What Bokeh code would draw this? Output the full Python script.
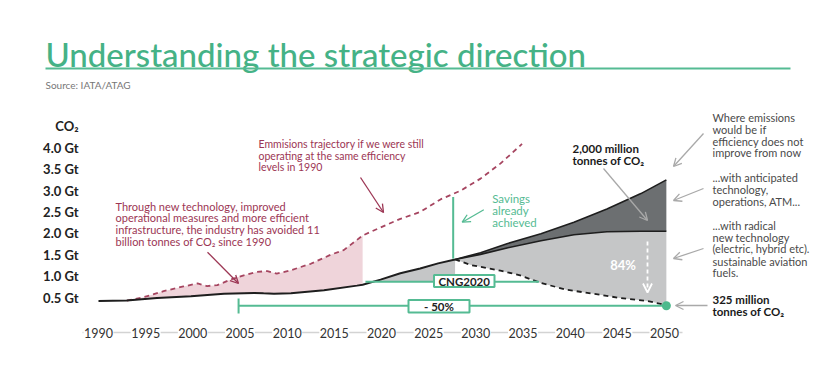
import numpy as np
from bokeh.plotting import figure
from bokeh.models import Arrow, OpenHead
from bokeh.core.properties import value
from bokeh.embed import file_html
from bokeh.resources import INLINE

# ---------------- data ----------------
years_actual = [1990, 1993, 1996.2, 1999.8, 2003.3, 2006.5, 2007.5, 2008.6, 2010.4,
                2013.9, 2017.4, 2018.0, 2019.9, 2022.0, 2024.1, 2026.0, 2027.8]
co2_actual = [0.42, 0.43, 0.49, 0.53, 0.59, 0.61, 0.60, 0.59, 0.60,
              0.67, 0.78, 0.80, 0.92, 1.07, 1.18, 1.30, 1.39]

years_1990_eff = [1993, 1994.8, 1996.9, 1999.0, 2000.5, 2001.5, 2002.6, 2004.0, 2005.4,
                  2006.8, 2007.9, 2008.9, 2010.4, 2012.5, 2014.6, 2016.0, 2018.0,
                  2019.9, 2022.0, 2024.1, 2026.3, 2028.4, 2030.5, 2032.6, 2034.9]
co2_1990_eff = [0.43, 0.51, 0.65, 0.76, 0.83, 0.77, 0.79, 0.92, 1.02,
                1.10, 1.12, 1.06, 1.14, 1.29, 1.50, 1.61, 1.95,
                2.14, 2.34, 2.50, 2.80, 3.00, 3.28, 3.63, 4.09]

years_future = [2027.8, 2030.5, 2033.3, 2036.9, 2040.4, 2043.9, 2047.5, 2050.2]
co2_no_improvement = [1.39, 1.55, 1.76, 1.99, 2.26, 2.57, 2.93, 3.25]
co2_anticipated = [1.39, 1.51, 1.66, 1.83, 1.97, 2.04, 2.05, 2.05]

years_radical = [2027.8, 2029.5, 2032.6, 2034.7, 2036.9, 2039.7, 2042.5, 2045.3, 2048.2, 2050.2]
co2_radical = [1.39, 1.26, 1.13, 1.02, 0.84, 0.68, 0.59, 0.49, 0.42, 0.325]

cng2020_level = 0.87
cng2020_years = [2018.3, 2036.7]
half_level = 0.31
half_years = [2004.85, 2050.2]
savings_year = 2027.6
savings_values = [1.41, 2.85]
pink_fill_end = 2018.0

tick_years = [1990, 1995, 2000, 2005, 2010, 2015, 2020, 2025, 2030, 2035, 2040, 2045, 2050]
ytick_values = [0.5, 1.0, 1.5, 2.0, 2.5, 3.0, 3.5, 4.0]
ytick_labels = ["0.5 Gt", "1.0 Gt", "1.5 Gt", "2.0 Gt", "2.5 Gt", "3.0 Gt", "3.5 Gt", "4.0 Gt"]

# ---------------- layout (canvas = frame) ----------------
W, H = 828, 378
PX_YEAR = 9.433          # pixels per year
PX_GT = 42.8             # pixels per Gt
X0 = 1990 - 98 / PX_YEAR
X1 = X0 + W / PX_YEAR
Y1 = 318.5 / PX_GT
Y0 = Y1 - H / PX_GT


def X(px):
    return X0 + px / PX_YEAR


def Y(py):
    return Y1 - py / PX_GT


GREEN = "#55bb93"
TITLE_GREEN = "#45b286"
PINK = "#9c3654"
PINK_DASH = "#a64560"
PINK_FILL = "#efd4da"
DARK_GRAY = "#6c6f71"
LIGHT_GRAY = "#c5c6c7"
TEXT_GRAY = "#4a4a4a"
ARROW_GRAY = "#a9a9a9"
FONT = "Lato"

p = figure(width=W, height=H, x_range=(X0, X1), y_range=(Y0, Y1),
           output_backend="svg", toolbar_location=None, min_border=0,
           x_axis_location=None, y_axis_location=None)
p.grid.visible = False
p.outline_line_color = None
p.background_fill_color = "white"
p.border_fill_color = "white"


def txt(xs, ys, texts, size, color, bold=False, align="left", baseline="middle", font=FONT):
    p.text(x=xs, y=ys, text=texts, text_font=value(font), text_font_size=f"{size}px",
           text_color=color, text_align=align, text_baseline=baseline,
           text_font_style="bold" if bold else "normal")


def arrow(x1, y1, x2, y2, color, width=1.3, dash="solid", size=8):
    p.add_layout(Arrow(end=OpenHead(size=size, line_color=color, line_width=width),
                       x_start=X(x1), y_start=Y(y1), x_end=X(x2), y_end=Y(y2),
                       line_color=color, line_width=width, line_dash=dash))


# ---------------- fills ----------------
ya = np.array(years_actual)
ca = np.array(co2_actual)
ye = np.array(years_1990_eff)
ce = np.array(co2_1990_eff)

m_e = ye <= pink_fill_end
m_a = (ya >= ye[0]) & (ya <= pink_fill_end)
p.patch(list(ye[m_e]) + list(ya[m_a][::-1]), list(ce[m_e]) + list(ca[m_a][::-1]),
        fill_color=PINK_FILL, line_color=None)

# grey area: between CNG2020 level and actual, then between anticipated and radical
tail = ya >= 2017
cross = float(np.interp(cng2020_level, ca[tail], ya[tail]))
after = ya > cross
gx = [cross] + list(ya[after]) + years_future[1:] + years_radical[::-1] + [years_future[0]]
gy = [cng2020_level] + list(ca[after]) + co2_anticipated[1:] + co2_radical[::-1] + [cng2020_level]
p.patch(gx, gy, fill_color=LIGHT_GRAY, line_color=None)

p.patch(years_future + years_future[::-1], co2_no_improvement + co2_anticipated[::-1],
        fill_color=DARK_GRAY, line_color=None)

# ---------------- lines ----------------
p.line(years_1990_eff, co2_1990_eff, line_color=PINK_DASH, line_width=1.8, line_dash="5 4")
p.line(years_actual, co2_actual, line_color="#1e1e1e", line_width=2)
p.line(years_future, co2_no_improvement, line_color="#1e1e1e", line_width=1.6)
p.line(years_future, co2_anticipated, line_color="#1e1e1e", line_width=1.6)
p.line(years_radical, co2_radical, line_color="#1e1e1e", line_width=1.8, line_dash="5 4")

# green reference lines
p.line(cng2020_years, [cng2020_level] * 2, line_color=GREEN, line_width=2)
p.line(half_years, [half_level] * 2, line_color=GREEN, line_width=2)
p.line([half_years[0]] * 2, [Y(298), Y(313)], line_color=GREEN, line_width=2)
p.line([savings_year] * 2, savings_values, line_color=GREEN, line_width=2)
p.scatter([years_radical[-1]], [half_level], size=9, fill_color="#4cba8d", line_color=None)

# boxes
p.quad(left=[X(433.5)], right=[X(494)], top=[Y(274.5)], bottom=[Y(286.5)],
       fill_color="white", line_color=GREEN, line_width=2)
txt([X(463.7)], [Y(280.7)], ["CNG2020"], 11.5, "#222222", bold=True, align="center")
p.quad(left=[X(408)], right=[X(469)], top=[Y(299.5)], bottom=[Y(312)],
       fill_color="white", line_color=GREEN, line_width=2)
txt([X(438.5)], [Y(306)], ["- 50%"], 11.5, "#222222", bold=True, align="center")

# 84 % marker
txt([X(622.5)], [Y(264.5)], ["84%"], 13, "white", bold=True, align="center")
arrow(647, 241, 647, 292, "white", width=1.8, dash="4 3", size=9)

# ---------------- x axis (line broken under labels) ----------------
ax_y = Y(332)
gap = 15 / PX_YEAR
segs_x0 = [X(82)] + [t + gap for t in tick_years]
segs_x1 = [tick_years[0] - gap] + [t + 5 - gap for t in tick_years[:-1]] + [X(682)]
p.segment(x0=segs_x0, y0=[ax_y] * len(segs_x0), x1=segs_x1, y1=[ax_y] * len(segs_x1),
          line_color="#d3d3d3", line_width=1.5)
txt(tick_years, [ax_y] * len(tick_years), [str(t) for t in tick_years], 12.5, "#333333",
    align="center")

# y labels
txt([X(78)] * len(ytick_values), ytick_values, ytick_labels, 13, "#222222", bold=True,
    align="right")
txt([X(78)], [Y(125)], ["CO₂"], 13, "#222222", bold=True, align="right")

# ---------------- header ----------------
txt([X(45)], [Y(53.5)], ["Understanding the strategic direction"], 33, TITLE_GREEN,
    bold=False, baseline="alphabetic", font="Lato Medium")
p.line([X(45), X(790)], [Y(68)] * 2, line_color=GREEN, line_width=2)
txt([X(45)], [Y(84)], ["Source: IATA/ATAG"], 10, "#777777")

# ---------------- annotations ----------------
lines = ["Through new technology, improved", "operational measures and more efficient",
         "infrastructure, the industry has avoided 11", "billion tonnes of CO₂ since 1990"]
txt([X(115)] * 4, [Y(205.7), Y(217.3), Y(229), Y(240.7)], lines, 11, PINK)
arrow(207, 251.7, 238, 283, PINK)

lines = ["Emmisions trajectory if we were still", "operating at the same efficiency",
         "levels in 1990"]
txt([X(258)] * 3, [Y(143.3), Y(155), Y(166.7)], lines, 10.5, PINK)
arrow(360, 177, 383, 212, PINK)

lines = ["Savings", "already", "achieved"]
txt([X(491.7)] * 3, [Y(198.3), Y(210), Y(221.7)], lines, 11.5, GREEN)
arrow(483.3, 209.3, 461.7, 221.7, GREEN)

txt([X(572)] * 2, [Y(148), Y(160)], ["2,000 million", "tonnes of CO₂"], 11.5, "#1a1a1a",
    bold=True)
arrow(603, 168, 647, 220, ARROW_GRAY)

lines = ["Where emissions", "would be if", "efficiency does not", "improve from now"]
txt([X(712)] * 4, [Y(116.7), Y(128.5), Y(140.5), Y(152)], lines, 11, TEXT_GRAY)
arrow(703, 133, 673, 166, ARROW_GRAY)

lines = ["...with anticipated", "technology,", "operations, ATM..."]
txt([X(712)] * 3, [Y(177.3), Y(189), Y(200.7)], lines, 11, TEXT_GRAY)
arrow(703, 188, 673, 200, ARROW_GRAY)

lines = ["...with radical", "new technology", "(electric, hybrid etc).",
         "sustainable aviation", "fuels."]
txt([X(712)] * 5, [Y(225), Y(236.7), Y(248.3), Y(260.5), Y(272.3)], lines, 11, TEXT_GRAY)
arrow(703, 248, 673, 258, ARROW_GRAY)

txt([X(712)] * 2, [Y(299.3), Y(311)], ["325 million", "tonnes of CO₂"], 11.5, "#1a1a1a",
    bold=True)
arrow(707, 305, 675, 305, ARROW_GRAY)

open("out.html", "w").write(file_html(p, INLINE))
